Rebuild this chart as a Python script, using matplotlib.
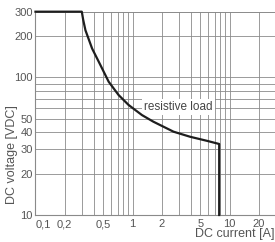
import numpy as np
import matplotlib
matplotlib.use("Agg")
import matplotlib.pyplot as plt
from matplotlib.ticker import FixedLocator, NullFormatter

plt.rcParams['font.family'] = ['Liberation Sans Narrow', 'Liberation Sans', 'DejaVu Sans']

# load limit curve
current = [0.1, 0.3, 0.31, 0.327, 0.383, 0.466, 0.567, 0.718, 0.91, 1.25, 1.64, 2.64, 3.92, 5.82, 7.8, 7.8]
voltage = [300, 300, 262, 220, 162, 123, 93, 74.4, 63, 53.2, 47.6, 40.3, 37.0, 34.6, 32.8, 10]

x_labeled = [0.1, 0.2, 0.5, 1, 2, 5, 10, 20]
x_labels = ["0,1", "0,2", "0,5", "1", "2", "5", "10", "20"]
x_grid = [0.3, 0.4, 0.6, 0.7, 0.8, 0.9, 3, 4, 6, 7, 8, 9]
y_labeled = [10, 20, 30, 40, 50, 100, 200, 300]
y_grid = [60, 70, 80, 90]

fig = plt.figure(figsize=(2.75, 2.42), dpi=100)
ax = fig.add_axes([0.129, 0.1116, 0.871, 0.8401])

ax.set_xscale('log')
ax.set_yscale('log')
ax.set_xlim(0.1, 29.3)
ax.set_ylim(10, 300)

ax.xaxis.set_major_locator(FixedLocator(x_labeled))
ax.xaxis.set_minor_locator(FixedLocator(x_grid))
ax.set_xticklabels(x_labels)
ax.xaxis.set_minor_formatter(NullFormatter())
ax.yaxis.set_major_locator(FixedLocator(y_labeled))
ax.yaxis.set_minor_locator(FixedLocator(y_grid))
ax.set_yticklabels([str(v) for v in y_labeled])
ax.yaxis.set_minor_formatter(NullFormatter())

ax.grid(True, which='both', color='#8a8a8a', linewidth=0.6)
ax.tick_params(which='both', length=0, labelsize=8, labelcolor='#555555', pad=2)
ax.tick_params(axis='x', pad=3)
ax.get_xticklabels()[0].set_horizontalalignment('left')

ax.spines['right'].set_visible(False)
ax.spines['top'].set_color('#8a8a8a')
ax.spines['top'].set_linewidth(0.6)
ax.spines['left'].set_color('#8a8a8a')
ax.spines['bottom'].set_color('#8a8a8a')
ax.spines['left'].set_linewidth(0.8)
ax.spines['bottom'].set_linewidth(0.8)

ax.plot(current, voltage, color='#1e1e1e', linewidth=1.6, solid_joinstyle='round', clip_on=False, zorder=5)

ax.text(2.95, 61, "resistive load", fontsize=8.5, color='#444444', ha='center', va='center',
        bbox=dict(facecolor='white', edgecolor='none', pad=1.5), zorder=4)

fig.text(0.045, 0.36, "DC voltage [VDC]", rotation=90, fontsize=9, color='#555555',
         ha='center', va='center')
fig.text(0.997, 0.032, "DC current [A]", fontsize=9, color='#555555', ha='right', va='center')

fig.savefig("out.png", dpi=100)
